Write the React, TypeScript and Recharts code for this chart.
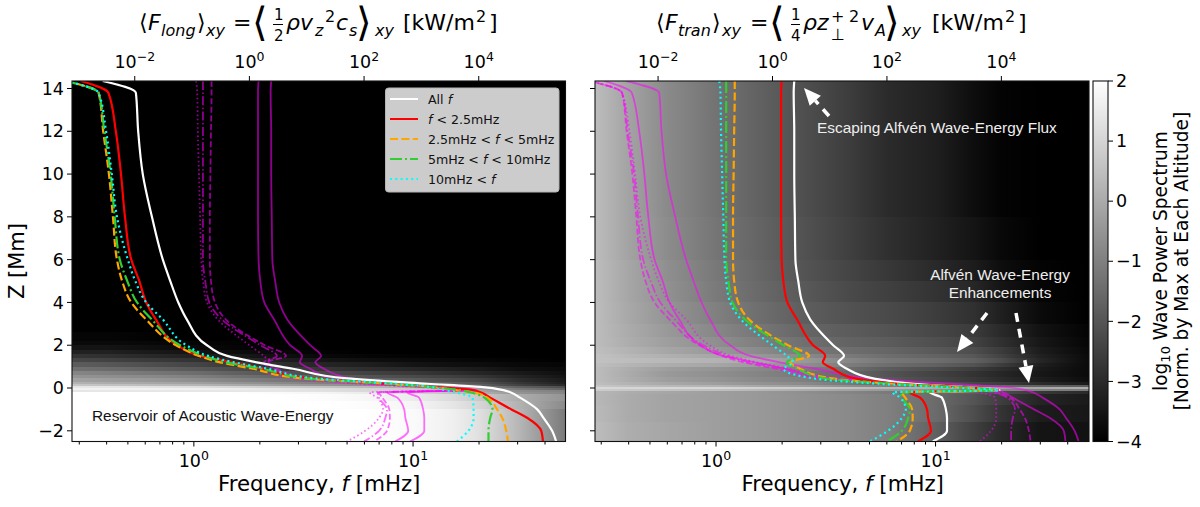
import { ComposedChart, Line, XAxis, YAxis, ReferenceArea } from "recharts";

const FONT = "DejaVu Sans";

// altitude levels [Mm] shared by all flux profiles
const zLevels = [14.35, 13.8, 12, 10, 8, 6, 5, 4, 3.2, 2, 1.5, 1.2, 0.9, 0.45, 0.2, 0.05, -0.1, -0.2, -0.45, -1, -1.4, -2, -2.5];

// log10 of the flux [kW/m2]
const longAll = [-2.56, -1.98, -1.94, -1.86, -1.7, -1.51, -1.38, -1.24, -1.09, -0.74, -0.39, 0.13, 0.76, 1.7, 3.1, 4.03, 4.43, 4.55, 4.72, 5.02, 5.13, 5.28, 5.35];
const long25 = [-2.94, -2.46, -2.33, -2.24, -2.17, -2.06, -1.92, -1.8, -1.63, -1.26, -0.86, -0.3, 0.22, 1.1, 2.37, 3.15, 3.9, 4.03, 4.2, 4.57, 4.85, 5.09, 5.12];
const long5 = [-3.2, -2.63, -2.55, -2.45, -2.38, -2.31, -2.22, -2.06, -1.8, -1.28, -0.88, -0.51, 0.06, 0.92, 2.37, 3.15, 3.59, 3.89, 4.15, 4.32, 4.41, 4.48, 4.51];
const long10 = [-3.2, -2.63, -2.53, -2.42, -2.35, -2.26, -2.13, -1.96, -1.7, -1.21, -0.79, -0.41, 0.22, 1.02, 2.45, 3.15, 3.68, 3.85, 4.1, 4.24, 4.2, 4.17, 4.17];
const longHi = [-3.2, -2.63, -2.5, -2.4, -2.31, -2.12, -1.99, -1.8, -1.51, -1.1, -0.72, -0.27, 0.32, 1.15, 2.54, 3.15, 3.41, 3.59, 3.89, 3.91, 3.91, 3.82, 3.62];

const tranAll = [0.38, 0.37, 0.38, 0.38, 0.39, 0.4, 0.45, 0.52, 0.66, 1.06, 1.25, 1.15, 1.3, 1.76, 2.46, 3.3, 3.97, 2.75, 2.96, 3.03, 3.05, 3.05, 2.8];
const tran25 = [0.16, 0.15, 0.15, 0.15, 0.15, 0.16, 0.19, 0.26, 0.43, 0.71, 0.92, 0.88, 1.06, 1.44, 2.2, 3.2, 3.95, 2.4, 2.58, 2.7, 2.72, 2.77, 2.54];
const tran5 = [-0.66, -0.66, -0.67, -0.68, -0.69, -0.69, -0.67, -0.6, -0.41, 0.27, 0.64, 0.31, 0.48, 1.04, 2.1, 3.1, 3.9, 2.26, 2.32, 2.44, 2.45, 2.4, 2.17];
const tran10 = [-0.81, -0.81, -0.81, -0.81, -0.81, -0.81, -0.77, -0.7, -0.48, 0.19, 0.48, 0.25, 0.43, 0.92, 2.05, 3.05, 3.9, 2.24, 2.26, 2.4, 2.37, 2.26, 2];
const tranHi = [-0.93, -0.91, -0.9, -0.88, -0.86, -0.84, -0.81, -0.74, -0.55, 0, 0.25, 0.36, 0.19, 0.71, 1.85, 2.9, 3.95, 2.1, 2.23, 2.33, 2.26, 2.02, 1.7];

const rows = zLevels.map((z, i) => ({
  z,
  longAll: 10 ** longAll[i],
  long25: 10 ** long25[i],
  long5: 10 ** long5[i],
  long10: 10 ** long10[i],
  longHi: 10 ** longHi[i],
  tranAll: 10 ** tranAll[i],
  tran25: 10 ** tran25[i],
  tran5: 10 ** tran5[i],
  tran10: 10 ** tran10[i],
  tranHi: 10 ** tranHi[i],
}));

// spectrum: frequency columns [mHz], altitude band edges [Mm], level in % of the colour bar (0 = -4, 100 = 2)
const heatFreqs = [0.28, 0.4, 0.6, 1, 1.5, 2.5, 4, 6, 10, 15, 20, 30, 50];

const longEdges = [14.35, 2.6, 2.2, 2, 1.8, 1.6, 1.4, 1.2, 1, 0.8, 0.6, 0.45, 0.3, 0.2, 0.1, 0.02, -0.08, -0.2, -0.3, -0.6, -1, -2.5];
const longHeat = [
  [0, 0, 0, 0, 0, 0, 0, 0, 0, 0, 0, 0, 0],
  [2, 2, 1, 0, 0, 0, 0, 0, 0, 0, 0, 0, 0],
  [4, 4, 3, 2, 1, 0, 0, 0, 0, 0, 0, 0, 0],
  [8, 8, 6, 4, 2, 1, 0, 0, 0, 0, 0, 0, 0],
  [13, 13, 10, 8, 5, 3, 1, 0, 0, 0, 0, 0, 0],
  [20, 19, 16, 13, 10, 6, 3, 2, 1, 0, 0, 0, 0],
  [28, 26, 23, 20, 16, 12, 8, 6, 4, 3, 2, 1, 0],
  [36, 34, 31, 27, 23, 18, 14, 12, 8, 6, 5, 3, 2],
  [44, 42, 39, 35, 30, 25, 21, 18, 15, 12, 10, 6, 4],
  [52, 50, 47, 43, 38, 33, 29, 26, 22, 18, 15, 10, 6],
  [58, 56, 54, 50, 45, 40, 36, 33, 29, 25, 21, 14, 8],
  [64, 62, 60, 56, 52, 47, 43, 40, 36, 31, 27, 18, 10],
  [70, 68, 66, 63, 59, 54, 50, 47, 43, 38, 33, 22, 12],
  [78, 76, 74, 71, 67, 62, 58, 55, 50, 44, 38, 26, 16],
  [90, 90, 89, 87, 84, 80, 76, 72, 66, 58, 50, 38, 30],
  [95, 95, 95, 94, 93, 90, 87, 84, 78, 70, 62, 48, 38],
  [90, 90, 90, 90, 90, 90, 88, 85, 80, 72, 65, 55, 50],
  [100, 100, 100, 100, 100, 98, 96, 92, 85, 76, 70, 58, 52],
  [100, 100, 100, 100, 100, 100, 99, 97, 92, 86, 79, 68, 58],
  [100, 100, 100, 100, 100, 100, 100, 99, 96, 90, 84, 70, 54],
  [100, 100, 100, 100, 100, 100, 100, 100, 98, 94, 88, 72, 48],
];

const tranEdges = [14.35, 8, 6, 5, 4, 3, 2.4, 1.9, 1.6, 1.4, 1.15, 1, 0.8, 0.5, 0.3, 0.15, 0.05, -0.05, -0.15, -0.3, -0.8, -1.6, -2.5];
const tranHeat = [
  [74, 64, 54, 45, 39, 31, 24, 17, 12, 5, 1, 0, 0],
  [74, 64, 55, 46, 40, 32, 25, 19, 13, 8, 3, 0, 0],
  [74, 65, 56, 47, 41, 33, 27, 22, 16, 11, 5, 1, 0],
  [74, 65, 57, 48, 42, 35, 29, 25, 20, 15, 8, 2, 0],
  [74, 66, 58, 50, 44, 37, 32, 29, 24, 19, 12, 4, 0],
  [74, 67, 60, 53, 47, 40, 36, 33, 28, 23, 16, 7, 1],
  [74, 68, 62, 56, 50, 44, 39, 36, 31, 26, 19, 9, 2],
  [75, 70, 65, 60, 55, 48, 43, 40, 35, 30, 23, 11, 3],
  [76, 72, 69, 65, 60, 54, 48, 43, 39, 34, 26, 13, 4],
  [76, 74, 72, 70, 66, 60, 53, 47, 43, 38, 30, 15, 4],
  [75, 71, 68, 65, 61, 56, 49, 43, 38, 32, 24, 12, 4],
  [74, 68, 62, 58, 54, 49, 43, 36, 30, 24, 18, 10, 4],
  [74, 67, 60, 56, 52, 47, 40, 33, 26, 20, 15, 9, 4],
  [74, 68, 62, 58, 54, 50, 42, 35, 28, 22, 17, 11, 5],
  [75, 70, 66, 62, 58, 54, 47, 40, 33, 28, 24, 17, 10],
  [78, 75, 72, 70, 66, 62, 56, 50, 44, 42, 40, 38, 36],
  [85, 84, 84, 84, 82, 80, 76, 72, 68, 65, 64, 66, 68],
  [80, 78, 76, 75, 72, 68, 64, 60, 56, 54, 52, 50, 48],
  [72, 68, 65, 62, 60, 56, 52, 48, 42, 36, 30, 22, 16],
  [72, 67, 64, 62, 60, 57, 54, 50, 42, 33, 24, 14, 10],
  [73, 67, 64, 62, 60, 57, 54, 50, 42, 30, 20, 11, 9],
  [74, 68, 65, 62, 60, 57, 54, 50, 38, 25, 16, 8, 7],
];

const freqMajor = [1, 10];
const freqMinor = [0.3, 0.4, 0.5, 0.6, 0.7, 0.8, 0.9, 2, 3, 4, 5, 6, 7, 8, 9, 20, 30, 40];
const fluxTicks = [0.01, 1, 100, 10000];
const zTicks = [-2, 0, 2, 4, 6, 8, 10, 12, 14];
const barTicks = [-4, -3, -2, -1, 0, 1, 2];
const barEnds = [{ x: 0, v: -4 }, { x: 1, v: 2 }];

const legendItems = [
  { label: ["All ", "f"], color: "#ffffff", dash: undefined },
  { label: ["", "f", " < 2.5mHz"], color: "#ff0000", dash: undefined },
  { label: ["2.5mHz < ", "f", " < 5mHz"], color: "#ffa500", dash: "8 3.4" },
  { label: ["5mHz < ", "f", " < 10mHz"], color: "#32cd32", dash: "12 3 2 3" },
  { label: ["10mHz < ", "f"], color: "#00ffff", dash: "2 3.3" },
];

const keys = ["All", "25", "5", "10", "Hi"];
const dashesMain = [undefined, undefined, "8 3.4", "12 3 2 3", "2 3.3"];
const colorsMain = ["#ffffff", "#ff0000", "#ffa500", "#32cd32", "#00ffff"];
const dashesThin = [undefined, undefined, "6 2.6", "9 2.4 1.5 2.4", "1.6 2.6"];

const gray = (level: number) => {
  const g = Math.round((level / 100) * 255);
  return `rgb(${g},${g},${g})`;
};

const FreqTick = ({ x, y, payload }: any) => {
  const major = freqMajor.includes(payload.value);
  return (
    <g>
      <line x1={x} x2={x} y1={y} y2={y + (major ? 5 : 3)} stroke="#000" strokeWidth={1} />
      {major && (
        <text x={x} y={y + 25} textAnchor="middle" fontFamily={FONT} fontSize={17.5} fill="#000">
          10
          <tspan fontSize={12.5} dy={-7}>{Math.log10(payload.value).toFixed(0)}</tspan>
        </text>
      )}
    </g>
  );
};

const FluxTick = ({ x, y, payload }: any) => {
  const exp = Math.round(Math.log10(payload.value));
  return (
    <g>
      <line x1={x} x2={x} y1={y} y2={y - 5} stroke="#000" strokeWidth={1} />
      <text x={x} y={y - 13} textAnchor="middle" fontFamily={FONT} fontSize={17.5} fill="#000">
        10
        <tspan fontSize={12.5} dy={-7}>{exp < 0 ? `\u2212${-exp}` : exp}</tspan>
      </text>
    </g>
  );
};

function Panel({ left, right, freqDomain, fluxDomain, edges, heat, main, thin, id, labels }: any) {
  const span = Math.log10(freqDomain[1]) - Math.log10(freqDomain[0]);
  const offset = (f: number) => Math.max(0, Math.min(1, (Math.log10(f) - Math.log10(freqDomain[0])) / span));
  return (
    <div style={{ position: "absolute", left: 0, top: 0 }}>
      <ComposedChart
        width={1200}
        height={507}
        layout="vertical"
        data={rows}
        margin={{ top: 51, bottom: 35.5, left: left - 40, right: 1200 - right }}
      >
        <defs>
          {heat.map((row: number[], r: number) => (
            <linearGradient key={r} id={`${id}${r}`} x1="0" x2="1" y1="0" y2="0">
              {row.map((v, c) => (
                <stop key={c} offset={offset(heatFreqs[c])} stopColor={gray(v)} />
              ))}
            </linearGradient>
          ))}
        </defs>
        <XAxis
          xAxisId="freq"
          orientation="bottom"
          type="number"
          scale="log"
          domain={freqDomain}
          allowDataOverflow
          ticks={[...freqMinor, ...freqMajor]}
          interval={0}
          height={30}
          axisLine={false}
          tickLine={false}
          tickSize={0}
          tickMargin={0}
          tick={<FreqTick />}
        />
        <XAxis
          xAxisId="flux"
          orientation="top"
          type="number"
          scale="log"
          domain={fluxDomain}
          allowDataOverflow
          ticks={fluxTicks}
          interval={0}
          height={30}
          axisLine={false}
          tickLine={false}
          tickSize={0}
          tickMargin={0}
          tick={<FluxTick />}
        />
        <YAxis
          type="number"
          dataKey="z"
          reversed
          domain={[-2.5, 14.35]}
          allowDataOverflow
          ticks={zTicks}
          interval={0}
          width={40}
          axisLine={false}
          tickSize={5}
          tickMargin={3}
          tickLine={{ stroke: "#000" }}
          tick={{ fill: "#000", fontSize: 17.5, fontFamily: FONT }}
          tickFormatter={(v: number) => (labels ? String(v).replace("-", "\u2212") : "")}
        />
        {heat.map((_: number[], r: number) => (
          <ReferenceArea
            key={r}
            xAxisId="freq"
            x1={freqDomain[0]}
            x2={freqDomain[1]}
            y1={edges[r + 1]}
            y2={edges[r]}
            fill={`url(#${id}${r})`}
            fillOpacity={1}
            stroke="none"
            shapeRendering="crispEdges"
            ifOverflow="visible"
          />
        ))}
        {keys.map((k, i) => (
          <Line
            key={thin + k}
            type="monotone"
            xAxisId="flux"
            dataKey={thin + k}
            stroke="#ff00ff"
            strokeOpacity={0.56}
            strokeWidth={1.8}
            strokeDasharray={dashesThin[i]}
            dot={false}
            isAnimationActive={false}
          />
        ))}
        {keys.map((k, i) => (
          <Line
            key={main + k}
            type="monotone"
            xAxisId="flux"
            dataKey={main + k}
            stroke={colorsMain[i]}
            strokeWidth={2.2}
            strokeDasharray={dashesMain[i]}
            dot={false}
            isAnimationActive={false}
          />
        ))}
      </ComposedChart>
    </div>
  );
}

function ColorBar() {
  return (
    <div style={{ position: "absolute", left: 0, top: 0 }}>
      <ComposedChart width={1200} height={507} data={barEnds} margin={{ top: 81, bottom: 65.5, left: 1093, right: 1200 - 1108 - 40 }}>
        <defs>
          <linearGradient id="cbar" x1="0" x2="0" y1="1" y2="0">
            <stop offset="0" stopColor="#000" />
            <stop offset="1" stopColor="#fff" />
          </linearGradient>
        </defs>
        <XAxis type="number" dataKey="x" domain={[0, 1]} height={0} axisLine={false} tickLine={false} tick={false} />
        <YAxis
          type="number"
          orientation="right"
          domain={[-4, 2]}
          ticks={barTicks}
          interval={0}
          width={40}
          axisLine={false}
          tickSize={5}
          tickMargin={3}
          tickLine={{ stroke: "#000" }}
          tick={{ fill: "#000", fontSize: 17.5, fontFamily: FONT, textAnchor: "start" }}
          tickFormatter={(v: number) => String(v).replace("-", "\u2212")}
        />
        <ReferenceArea x1={0} x2={1} y1={-4} y2={2} fill="url(#cbar)" fillOpacity={1} stroke="none" ifOverflow="visible" />
        <Line dataKey="v" stroke="none" dot={false} isAnimationActive={false} />
      </ComposedChart>
    </div>
  );
}

// one positioned piece of a formula title
const T = ({ x, y, s = 22, i, children }: any) => (
  <text x={x} y={y} fontSize={s} fontStyle={i ? "italic" : "normal"} fontFamily={FONT} fill="#000">
    {children}
  </text>
);

const Arrow = ({ x1, y1, x2, y2 }: any) => {
  const a = Math.atan2(y2 - y1, x2 - x1);
  const bx = x2 - 17 * Math.cos(a);
  const by = y2 - 17 * Math.sin(a);
  const nx = -Math.sin(a) * 7.5;
  const ny = Math.cos(a) * 7.5;
  return (
    <g>
      <line x1={x1} y1={y1} x2={bx} y2={by} stroke="#fff" strokeWidth={3.5} strokeDasharray="9 7" />
      <polygon points={`${x2},${y2} ${bx + nx},${by + ny} ${bx - nx},${by - ny}`} fill="#fff" />
    </g>
  );
};

function Overlay() {
  const sans = "Liberation Sans";
  return (
    <svg width={1200} height={507} style={{ position: "absolute", left: 0, top: 0 }}>
      <rect x={72} y={81} width={493.5} height={360.5} fill="none" stroke="#111" strokeWidth={1.1} />
      <rect x={595} y={81} width={494} height={360.5} fill="none" stroke="#111" strokeWidth={1.1} />
      <rect x={1093} y={81} width={15} height={360.5} fill="none" stroke="#111" strokeWidth={1.1} />

      {/* left title */}
      <T x={139} y={30}>{"\u27E8"}</T>
      <T x={148} y={30} i>F</T>
      <T x={161} y={36} s={16} i>long</T>
      <T x={197} y={30}>{"\u27E9"}</T>
      <T x={206} y={36} s={16} i>xy</T>
      <T x={233} y={30}>=</T>
      <T x={252} y={36} s={40}>{"\u27E8"}</T>
      <T x={274} y={20} s={15}>1</T>
      <line x1={273} x2={283} y1={24.5} y2={24.5} stroke="#000" />
      <T x={274} y={41} s={15}>2</T>
      <T x={286} y={30} i>{"\u03C1"}</T>
      <T x={300} y={30} i>v</T>
      <T x={315} y={36} s={16} i>z</T>
      <T x={325} y={22} s={16}>2</T>
      <T x={336} y={30} i>c</T>
      <T x={349} y={36} s={16} i>s</T>
      <T x={356} y={36} s={40}>{"\u27E9"}</T>
      <T x={375} y={36} s={16} i>xy</T>
      <T x={403} y={30}>[kW/m</T>
      <T x={476} y={22} s={16}>2</T>
      <T x={489} y={30}>]</T>

      {/* right title */}
      <T x={656} y={30}>{"\u27E8"}</T>
      <T x={665} y={30} i>F</T>
      <T x={678} y={36} s={16} i>tran</T>
      <T x={712} y={30}>{"\u27E9"}</T>
      <T x={722} y={36} s={16} i>xy</T>
      <T x={750} y={30}>=</T>
      <T x={769} y={36} s={40}>{"\u27E8"}</T>
      <T x={791} y={20} s={15}>1</T>
      <line x1={791} x2={800} y1={24.5} y2={24.5} stroke="#000" />
      <T x={791} y={41} s={15}>4</T>
      <T x={803} y={30} i>{"\u03C1"}</T>
      <T x={817} y={30} i>z</T>
      <T x={831} y={22} s={16}>+</T>
      <T x={831} y={40} s={16}>{"\u22A5"}</T>
      <T x={849} y={22} s={16}>2</T>
      <T x={861} y={30} i>v</T>
      <T x={875} y={36} s={16} i>A</T>
      <T x={884} y={36} s={40}>{"\u27E9"}</T>
      <T x={902} y={36} s={16} i>xy</T>
      <T x={932} y={30}>[kW/m</T>
      <T x={1005} y={22} s={16}>2</T>
      <T x={1018} y={30}>]</T>

      {/* axis titles */}
      <text x={218} y={491} fontFamily={FONT} fontSize={21.3} fill="#000">
        Frequency, <tspan fontStyle="italic">f</tspan> [mHz]
      </text>
      <text x={741.5} y={491} fontFamily={FONT} fontSize={21.3} fill="#000">
        Frequency, <tspan fontStyle="italic">f</tspan> [mHz]
      </text>
      <text transform="translate(24,261) rotate(-90)" textAnchor="middle" fontFamily={FONT} fontSize={21} fill="#000">
        Z [Mm]
      </text>
      <text transform="translate(1167,261) rotate(-90)" textAnchor="middle" fontFamily={FONT} fontSize={18.6} fill="#000">
        log<tspan fontSize={13} dy={3}>10</tspan>
        <tspan dy={-3}> Wave Power Spectrum</tspan>
      </text>
      <text transform="translate(1188,261) rotate(-90)" textAnchor="middle" fontFamily={FONT} fontSize={18.6} fill="#000">
        [Norm. by Max at Each Altitude]
      </text>

      {/* legend */}
      <rect x={385.5} y={88} width={173.5} height={104} rx={3} fill="#cccccc" stroke="#b5b5b5" />
      {legendItems.map((item, i) => (
        <g key={i}>
          <line x1={390} x2={418} y1={99 + i * 20} y2={99 + i * 20} stroke={item.color} strokeWidth={2} strokeDasharray={item.dash} />
          <text x={428} y={104 + i * 20} fontFamily={FONT} fontSize={12.6} fill="#111">
            {item.label[0]}
            <tspan fontStyle="italic">{item.label[1]}</tspan>
            {item.label[2]}
          </text>
        </g>
      ))}

      {/* annotations */}
      <text x={92} y={421} fontFamily={sans} fontSize={15.4} fill="#111">Reservoir of Acoustic Wave-Energy</text>
      <text x={817} y={133} fontFamily={sans} fontSize={15.4} fill="#eee">Escaping Alfvén Wave-Energy Flux</text>
      <text x={1000} y={280} textAnchor="middle" fontFamily={sans} fontSize={15.4} fill="#eee">Alfvén Wave-Energy</text>
      <text x={1000} y={298} textAnchor="middle" fontFamily={sans} fontSize={15.4} fill="#eee">Enhancements</text>
      <Arrow x1={829} y1={116} x2={804} y2={88} />
      <Arrow x1={987} y1={313} x2={957} y2={352} />
      <Arrow x1={1016} y1={313} x2={1029} y2={383} />
    </svg>
  );
}

export default function App() {
  return (
    <div style={{ position: "absolute", left: 0, top: 0, width: 1200, height: 507, background: "#fff", overflow: "hidden" }}>
      <Panel
        left={72}
        right={565.5}
        freqDomain={[0.278, 49.6]}
        fluxDomain={[8.05e-4, 3.26e5]}
        edges={longEdges}
        heat={longHeat}
        main="long"
        thin="tran"
        id="lh"
        labels
      />
      <Panel
        left={595}
        right={1089}
        freqDomain={[0.281, 50]}
        fluxDomain={[7.9e-4, 3.4e5]}
        edges={tranEdges}
        heat={tranHeat}
        main="tran"
        thin="long"
        id="th"
        labels={false}
      />
      <ColorBar />
      <Overlay />
    </div>
  );
}
